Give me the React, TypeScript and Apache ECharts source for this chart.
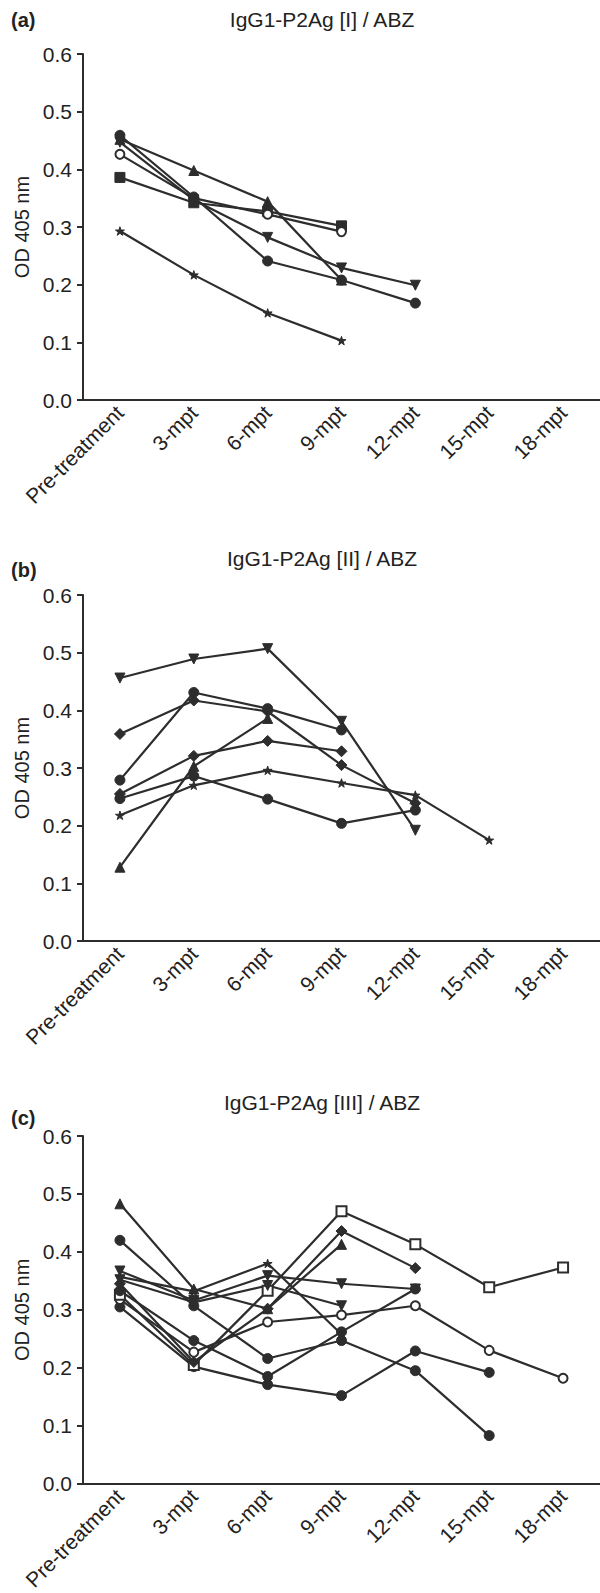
import React, { useEffect, useRef } from "react";
import * as echarts from "echarts";

// Time points shared by the three panels
const timePoints = ["Pre-treatment", "3-mpt", "6-mpt", "9-mpt", "12-mpt", "15-mpt", "18-mpt"];
const yTicks = [0, 0.1, 0.2, 0.3, 0.4, 0.5, 0.6];

const panelTitles = ["IgG1-P2Ag [I] / ABZ", "IgG1-P2Ag [II] / ABZ", "IgG1-P2Ag [III] / ABZ"];
const panelLetters = ["(a)", "(b)", "(c)"];

// Marker shapes
const STAR = "path://M50,0 L61,35 L98,35 L68,57 L79,91 L50,70 L21,91 L32,57 L2,35 L39,35 Z";
const DIAMOND = "path://M0,-1 L1,0 L0,1 L-1,0 Z";

// Panel (a): IgG1-P2Ag [I]
const aCircle = [0.459, 0.352, 0.241, 0.208, 0.168];
const aTriangle = [0.452, 0.398, 0.344, 0.208];
const aInvTriangle = [0.447, 0.347, 0.282, 0.229, 0.199];
const aOpenCircle = [0.426, 0.35, 0.322, 0.292];
const aSquare = [0.386, 0.342, 0.327, 0.302];
const aStar = [0.293, 0.217, 0.151, 0.103];

// Panel (b): IgG1-P2Ag [II]
const bInvTriangle = [0.456, 0.489, 0.507, 0.381, 0.192];
const bCircleA = [0.279, 0.431, 0.403, 0.366];
const bDiamondA = [0.359, 0.417, 0.398, 0.305, 0.239];
const bTriangle = [0.128, 0.303, 0.386];
const bDiamondB = [0.255, 0.321, 0.347, 0.329];
const bCircleB = [0.247, 0.286, 0.246, 0.204, 0.227];
const bStar = [0.218, 0.27, 0.296, 0.274, 0.253, 0.175];

// Panel (c): IgG1-P2Ag [III]
const cTriangle = [0.483, 0.336, 0.302, 0.413];
const cCircleA = [0.42, 0.307, 0.216, 0.247, 0.195, 0.083];
const cInvTriangleA = [0.367, 0.316, 0.359, 0.345, 0.336];
const cStar = [0.357, 0.332, 0.38, 0.258];
const cInvTriangleB = [0.352, 0.313, 0.342, 0.307];
const cDiamond = [0.345, 0.21, 0.302, 0.436, 0.372];
const cCircleB = [0.333, 0.247, 0.185, 0.262, 0.336];
const cOpenSquare = [0.326, 0.205, 0.333, 0.47, 0.413, 0.339, 0.373];
const cOpenCircle = [0.318, 0.227, 0.279, 0.291, 0.307, 0.23, 0.182];
const cCircleC = [0.305, 0.202, 0.171, 0.152, 0.229, 0.192];

type Marker = { symbol: string; rotate?: number; size?: number };
const M = {
  circle: { symbol: "circle", size: 10 },
  openCircle: { symbol: "emptyCircle", size: 9 },
  square: { symbol: "rect", size: 10 },
  openSquare: { symbol: "emptyRect", size: 10 },
  triangle: { symbol: "triangle", size: 10 },
  invTriangle: { symbol: "triangle", rotate: 180, size: 10 },
  diamond: { symbol: DIAMOND, size: 11 },
  star: { symbol: STAR, size: 9 },
} as Record<string, Marker>;

const panels: { series: [number[], Marker][] }[] = [
  {
    series: [
      [aStar, M.star],
      [aSquare, M.square],
      [aOpenCircle, M.openCircle],
      [aInvTriangle, M.invTriangle],
      [aTriangle, M.triangle],
      [aCircle, M.circle],
    ],
  },
  {
    series: [
      [bStar, M.star],
      [bCircleB, M.circle],
      [bDiamondB, M.diamond],
      [bTriangle, M.triangle],
      [bDiamondA, M.diamond],
      [bCircleA, M.circle],
      [bInvTriangle, M.invTriangle],
    ],
  },
  {
    series: [
      [cCircleC, M.circle],
      [cOpenCircle, M.openCircle],
      [cOpenSquare, M.openSquare],
      [cCircleB, M.circle],
      [cDiamond, M.diamond],
      [cInvTriangleB, M.invTriangle],
      [cStar, M.star],
      [cInvTriangleA, M.invTriangle],
      [cCircleA, M.circle],
      [cTriangle, M.triangle],
    ],
  },
];

const INK = "#2d2d2d";
const FONT = "'Liberation Sans', Arial, Helvetica, sans-serif";

const gridTops = [54, 595, 1136];
const gridHeights = [346, 346, 350];
const titleYs = [19, 558, 1102];
const letterYs = [20, 570, 1118];

export default function App() {
  const ref = useRef<HTMLDivElement>(null);

  useEffect(() => {
    if (!ref.current) return;
    const chart = echarts.init(ref.current, undefined, { renderer: "svg" });

    const grid = gridTops.map((top, i) => ({
      left: 83,
      top,
      width: 520,
      height: gridHeights[i],
    }));

    const xAxis = gridTops.map((_, i) => ({
      type: "category" as const,
      gridIndex: i,
      data: timePoints,
      boundaryGap: true,
      axisLine: { lineStyle: { color: INK, width: 2 } },
      axisTick: { alignWithLabel: true, length: 6, lineStyle: { color: INK, width: 2 } },
      axisLabel: {
        rotate: 45,
        margin: 9,
        color: "#222",
        fontSize: 21,
        fontFamily: FONT,
        interval: 0,
      },
      splitLine: { show: false },
    }));

    const yAxis = gridTops.map((_, i) => ({
      type: "value" as const,
      gridIndex: i,
      min: yTicks[0],
      max: yTicks[yTicks.length - 1],
      interval: 0.1,
      name: "OD 405 nm",
      nameLocation: "middle" as const,
      nameGap: 50,
      nameTextStyle: { fontSize: 20, fontFamily: FONT, color: "#222" },
      axisLine: { show: true, lineStyle: { color: INK, width: 2 } },
      axisTick: { show: true, length: 6, lineStyle: { color: INK, width: 2 } },
      axisLabel: {
        margin: 11,
        color: "#222",
        fontSize: 21,
        fontFamily: FONT,
        formatter: (v: number) => v.toFixed(1),
      },
      splitLine: { show: false },
    }));

    const series: any[] = [];
    panels.forEach((p, i) => {
      p.series.forEach(([values, marker]) => {
        series.push({
          type: "line",
          xAxisIndex: i,
          yAxisIndex: i,
          data: values,
          symbol: marker.symbol,
          symbolSize: marker.size ?? 10,
          symbolRotate: marker.rotate ?? 0,
          symbolKeepAspect: true,
          showAllSymbol: true,
          color: INK,
          lineStyle: { color: INK, width: 2.2 },
          itemStyle: { color: INK, borderColor: INK },
          emphasis: { disabled: true },
        });
      });
    });

    const graphic: any[] = [];
    panelTitles.forEach((t, i) => {
      graphic.push({
        type: "text",
        x: 322,
        y: titleYs[i],
        style: {
          text: t,
          fill: "#222",
          font: `21px ${FONT}`,
          textAlign: "center",
          textVerticalAlign: "middle",
        },
      });
      graphic.push({
        type: "text",
        x: 11,
        y: letterYs[i],
        style: {
          text: panelLetters[i],
          fill: "#222",
          font: `bold 20px ${FONT}`,
          textAlign: "left",
          textVerticalAlign: "middle",
        },
      });
    });

    chart.setOption({
      animation: false,
      backgroundColor: "#ffffff",
      grid,
      xAxis,
      yAxis,
      series,
      graphic,
    });

    return () => chart.dispose();
  }, []);

  return (
    <div
      ref={ref}
      style={{ position: "absolute", left: 0, top: 0, width: 600, height: 1593 }}
    />
  );
}
